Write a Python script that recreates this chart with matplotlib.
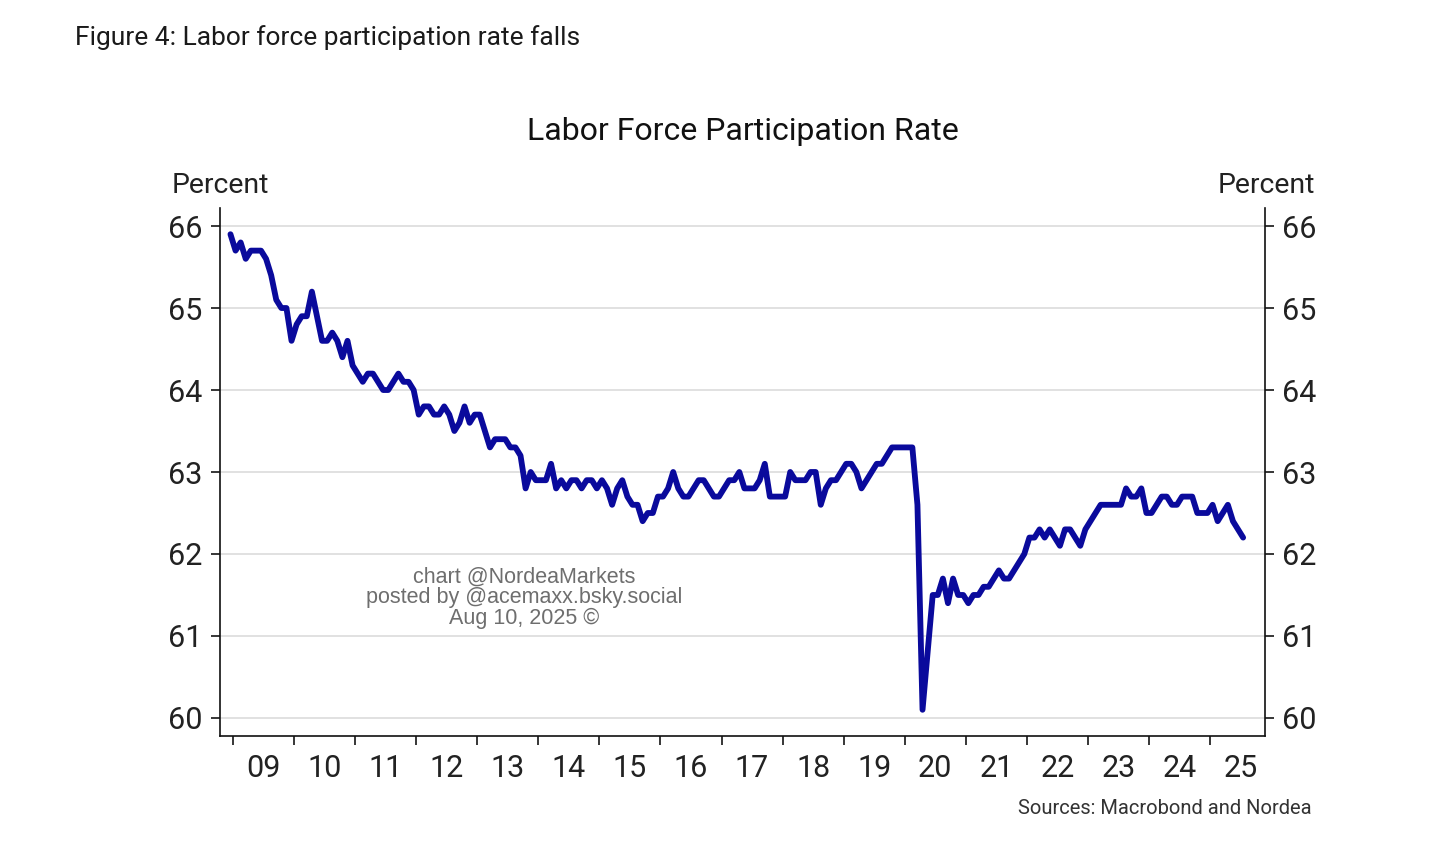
import numpy as np
import matplotlib
matplotlib.use("Agg")
import matplotlib.pyplot as plt
from matplotlib.ticker import FixedLocator, NullFormatter, FixedFormatter

# Labor force participation rate, monthly (Dec 2008 - Jul 2025)
start_year = 2008
start_month = 12
rate = [
    65.9,
    # 2009
    65.7, 65.8, 65.6, 65.7, 65.7, 65.7, 65.6, 65.4, 65.1, 65.0, 65.0, 64.6,
    # 2010
    64.8, 64.9, 64.9, 65.2, 64.9, 64.6, 64.6, 64.7, 64.6, 64.4, 64.6, 64.3,
    # 2011
    64.2, 64.1, 64.2, 64.2, 64.1, 64.0, 64.0, 64.1, 64.2, 64.1, 64.1, 64.0,
    # 2012
    63.7, 63.8, 63.8, 63.7, 63.7, 63.8, 63.7, 63.5, 63.6, 63.8, 63.6, 63.7,
    # 2013
    63.7, 63.5, 63.3, 63.4, 63.4, 63.4, 63.3, 63.3, 63.2, 62.8, 63.0, 62.9,
    # 2014
    62.9, 62.9, 63.1, 62.8, 62.9, 62.8, 62.9, 62.9, 62.8, 62.9, 62.9, 62.8,
    # 2015
    62.9, 62.8, 62.6, 62.8, 62.9, 62.7, 62.6, 62.6, 62.4, 62.5, 62.5, 62.7,
    # 2016
    62.7, 62.8, 63.0, 62.8, 62.7, 62.7, 62.8, 62.9, 62.9, 62.8, 62.7, 62.7,
    # 2017
    62.8, 62.9, 62.9, 63.0, 62.8, 62.8, 62.8, 62.9, 63.1, 62.7, 62.7, 62.7,
    # 2018
    62.7, 63.0, 62.9, 62.9, 62.9, 63.0, 63.0, 62.6, 62.8, 62.9, 62.9, 63.0,
    # 2019
    63.1, 63.1, 63.0, 62.8, 62.9, 63.0, 63.1, 63.1, 63.2, 63.3, 63.3, 63.3,
    # 2020
    63.3, 63.3, 62.6, 60.1, 60.8, 61.5, 61.5, 61.7, 61.4, 61.7, 61.5, 61.5,
    # 2021
    61.4, 61.5, 61.5, 61.6, 61.6, 61.7, 61.8, 61.7, 61.7, 61.8, 61.9, 62.0,
    # 2022
    62.2, 62.2, 62.3, 62.2, 62.3, 62.2, 62.1, 62.3, 62.3, 62.2, 62.1, 62.3,
    # 2023
    62.4, 62.5, 62.6, 62.6, 62.6, 62.6, 62.6, 62.8, 62.7, 62.7, 62.8, 62.5,
    # 2024
    62.5, 62.6, 62.7, 62.7, 62.6, 62.6, 62.7, 62.7, 62.7, 62.5, 62.5, 62.5,
    # 2025
    62.6, 62.4, 62.5, 62.6, 62.4, 62.3, 62.2,
]
year_labels = ["09", "10", "11", "12", "13", "14", "15", "16", "17",
               "18", "19", "20", "21", "22", "23", "24", "25"]
y_ticks = [60, 61, 62, 63, 64, 65, 66]

# months plotted at mid-month, in fractional years
months = np.arange(len(rate)) + (start_month - 1)
x = start_year + (months + 0.5) / 12.0
first_year = 2009
years = np.arange(first_year, first_year + len(year_labels))

plt.rcParams["font.family"] = ["Roboto", "DejaVu Sans"]
txt = "#222222"

fig = plt.figure(figsize=(14.56, 8.52), dpi=100)
ax = fig.add_axes([220 / 1456, 1 - 736 / 852, (1265 - 220) / 1456, (736 - 208) / 852])

ax.plot(x, rate, color="#0A0A9C", lw=4.2, solid_joinstyle="round",
        solid_capstyle="round", zorder=3)

ax.set_xlim(2008.787, 2025.90)
ax.set_ylim(59.78, 66.22)

for v in y_ticks:
    ax.axhline(v, color="#DCDCDC", lw=1.2, zorder=1)

ax.spines["top"].set_visible(False)
for s in ("left", "right", "bottom"):
    ax.spines[s].set_linewidth(1.2)
    ax.spines[s].set_color("#111111")

ax.set_yticks(y_ticks)
ax.tick_params(axis="y", which="both", left=True, right=True, labelleft=True,
               labelright=True, length=6.5, width=1.1, pad=6,
               labelsize=22, labelcolor=txt, direction="out")

ax.xaxis.set_major_locator(FixedLocator(years))
ax.xaxis.set_major_formatter(NullFormatter())
ax.xaxis.set_minor_locator(FixedLocator(years + 0.5))
ax.xaxis.set_minor_formatter(FixedFormatter(year_labels))
ax.tick_params(axis="x", which="major", length=6.5, width=1.1, direction="out")
ax.tick_params(axis="x", which="minor", length=0, pad=13, labelsize=22, labelcolor=txt)

fig.text(75 / 1456, 1 - 38 / 852, "Figure 4: Labor force participation rate falls",
         fontsize=19, color="#1a1a1a", ha="left", va="center")
fig.text(742.5 / 1456, 1 - 131 / 852, "Labor Force Participation Rate",
         fontsize=23, color="#111111", ha="center", va="center")
fig.text(172 / 1456, 1 - 186 / 852, "Percent", fontsize=20.5, color=txt,
         ha="left", va="center")
fig.text(1315 / 1456, 1 - 186 / 852, "Percent", fontsize=20.5, color=txt,
         ha="right", va="center")
fig.text(1312 / 1456, 1 - 809 / 852, "Sources: Macrobond and Nordea",
         fontsize=14.5, color="#333333", ha="right", va="center")

fig.text(524 / 1456, 1 - 598 / 852,
         "chart @NordeaMarkets\nposted by @acemaxx.bsky.social\nAug 10, 2025 \u00a9",
         family=["Liberation Sans", "DejaVu Sans"], fontsize=15.5, color="#6E6E6E",
         ha="center", va="center", linespacing=0.98, zorder=5)

fig.savefig("out.png", dpi=100, facecolor="white")
